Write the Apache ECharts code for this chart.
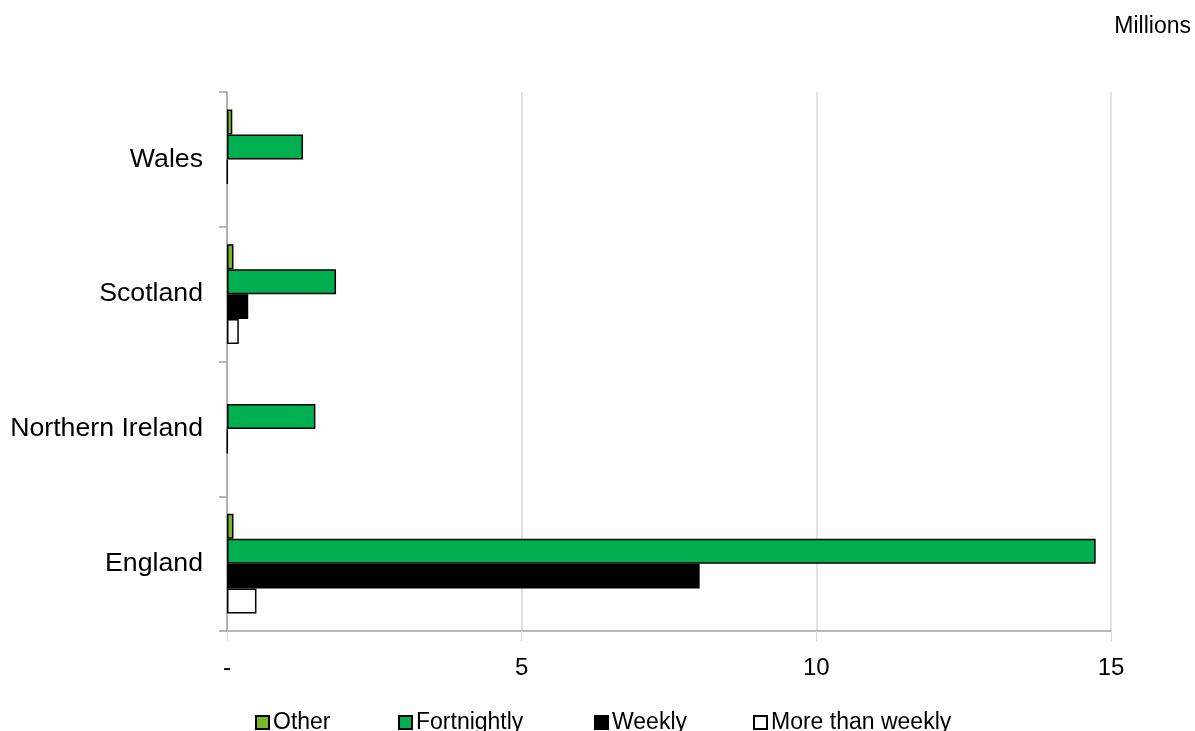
<!DOCTYPE html>
<html>
<head>
<meta charset="utf-8">
<script src="https://cdn.jsdelivr.net/npm/echarts@6/dist/echarts.min.js"></script>
<style>
html,body{margin:0;padding:0;background:#fff;}
#chart{width:1195px;height:731px;}
</style>
</head>
<body>
<div id="chart"></div>
<script>
const categories = ['England', 'Northern Ireland', 'Scotland', 'Wales'];
const seriesNames = ['Other', 'Fortnightly', 'Weekly', 'More than weekly'];
// null = no bar drawn for that country
const otherValues = [0.11, null, 0.11, 0.09];
const fortnightlyValues = [14.74, 1.5, 1.85, 1.29];
const weeklyValues = [8.02, 0.01, 0.36, 0.01];
const moreThanWeeklyValues = [0.5, null, 0.2, null];
const xTicks = [0, 5, 10, 15];

const FONT = 'Liberation Sans, Arial, sans-serif';
const colors = ['#76B82A', '#00B050', '#000000', '#FFFFFF'];
const values = [otherValues, fortnightlyValues, weeklyValues, moreThanWeeklyValues];
const legendLefts = [255, 398, 594, 753];

const chart = echarts.init(document.getElementById('chart'), null, {renderer: 'canvas'});
const option = {
  animation: false,
  backgroundColor: '#ffffff',
  title: {
    text: 'Millions',
    right: 4,
    top: 15,
    padding: 0,
    textStyle: {fontFamily: FONT, fontSize: 23, fontWeight: 'normal', color: '#000'}
  },
  legend: seriesNames.map((n, i) => ({
    data: [n],
    left: legendLefts[i],
    top: 711,
    padding: 0,
    itemWidth: 13,
    itemHeight: 13,
    itemGap: 5,
    icon: 'rect',
    textStyle: {fontFamily: FONT, fontSize: 23, color: '#000', padding: [0, 0, 0, -1]}
  })),
  grid: {left: 227, right: 84, top: 92, bottom: 100, containLabel: false},
  xAxis: {
    type: 'value',
    min: xTicks[0],
    max: xTicks[xTicks.length - 1],
    interval: 5,
    axisLine: {show: true, lineStyle: {color: '#A0A0A0', width: 1.5}},
    axisTick: {show: true, length: 10, lineStyle: {color: '#D9D9D9'}},
    splitLine: {show: true, lineStyle: {color: '#D9D9D9', width: 1.5}},
    axisLabel: {
      margin: 25,
      fontFamily: FONT, fontSize: 24, color: '#000',
      formatter: v => v === 0 ? '-' : String(v)
    }
  },
  yAxis: {
    type: 'category',
    data: categories,
    axisLine: {show: true, lineStyle: {color: '#A0A0A0', width: 1.5}},
    axisTick: {show: true, length: 8, lineStyle: {color: '#A0A0A0', width: 1.5}},
    axisLabel: {margin: 24, fontFamily: FONT, fontSize: 26.7, color: '#000', padding: [3, 0, 0, 0]}
  },
  series: seriesNames.map((n, i) => ({
    name: n,
    type: 'bar',
    data: values[i],
    barGap: '0%',
    barCategoryGap: '26%',
    itemStyle: {color: colors[i], borderColor: '#000', borderWidth: 1.5}
  }))
};
chart.setOption(option);
</script>
</body>
</html>
